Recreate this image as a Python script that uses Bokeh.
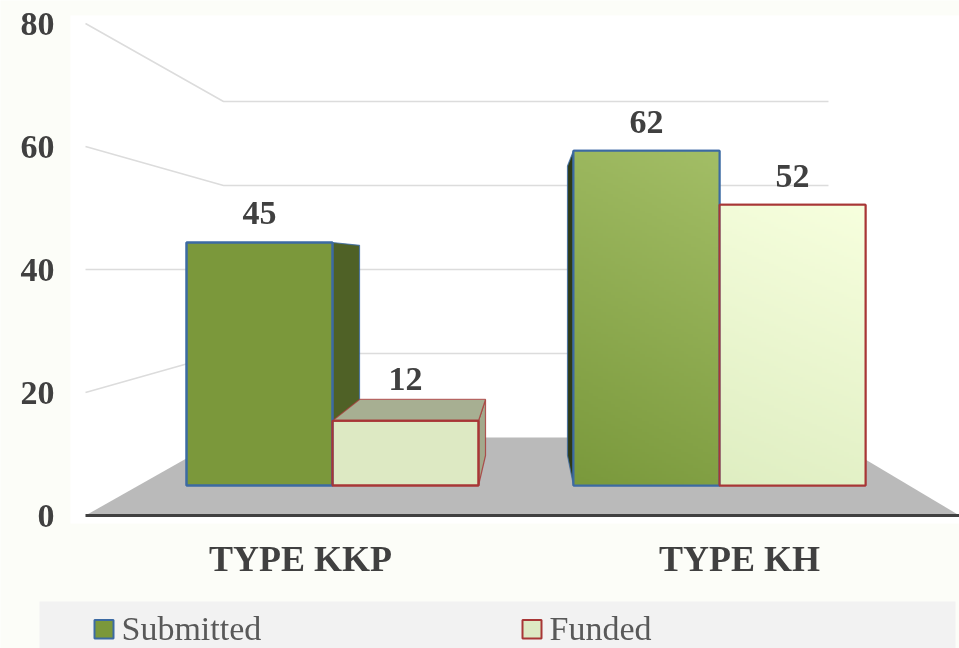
import numpy as np
from bokeh.embed import file_html
from bokeh.resources import INLINE
from bokeh.plotting import figure
from bokeh.models import Range1d, ColumnDataSource, FixedTicker
from bokeh.core.properties import value

# ---- data ----
categories = ["TYPE KKP", "TYPE KH"]
series = ["Submitted", "Funded"]
submitted = [45, 62]
funded = [12, 52]
y_ticks = [0, 20, 40, 60, 80]

# ---- style ----
W, H = 959, 648
PAGE = "#fcfdf8"
INK = "#404040"
SERIF = value("Liberation Serif")
LINE = {"Submitted": "#3c6aa3", "Funded": "#a83636"}
FILL = {"Submitted": "#7b983b", "Funded": "#dde9c3"}
SIDE = {"Submitted": ["#4f6126", "#2e3a16"], "Funded": ["#a3a98c", "#a7af92"]}
GRAD = {  # (top colour, bottom colour) of bars that carry a gradient
    ("Submitted", 1): ((163, 190, 102), (122, 153, 60)),
    ("Funded", 1): ((247, 255, 222), (223, 238, 194)),
}

# ---- view geometry (the 3-D look: each plane maps a value to the axis scale) ----
U = 6.15                     # pixels per value on the axis plane
ZERO_PX = 515                # pixel row of the axis plane's zero
def row(px):                 # pixel row -> y data
    return (ZERO_PX - px) / U

FRONT = (1.0, 0.0, 5.4 / U, row(485))
BACK = (0.863, 72.5, 4.67 / U, row(455))
WALL_Y = (4.2 / U, row(437))
def pt(x, v, plane):
    return plane[0] * x + plane[1], plane[2] * v + plane[3]

SLOT = {0: 332, 1: 719}      # category centres on the front plane
BW = 146                     # bar width
AX_L, WALL_L, WALL_R, AX_R = 85, 223, 828, 959
CAT_X = [300, 739]
LABEL_DY = {("Submitted", 0): -30, ("Funded", 0): -42,
            ("Submitted", 1): -29, ("Funded", 1): -29}
LEG_SWATCH = [94, 522]
LEG_TEXT = [121, 549]

p = figure(width=W, height=H, x_range=Range1d(0, W),
           y_range=Range1d(row(H), row(0)), toolbar_location=None, tools="",
           output_backend="svg", min_border=0, x_axis_type=None,
           background_fill_color=PAGE, border_fill_color=PAGE, outline_line_color=None)
p.styles = {"position": "fixed", "left": "0", "top": "0"}
p.xgrid.visible = False
p.ygrid.visible = False

# panel, floor, walls
p.quad(left=70, right=W, top=row(15), bottom=row(523), fill_color="white", line_color=None)
p.patch([AX_L, AX_R, WALL_R, WALL_L], [0, 0, WALL_Y[1], WALL_Y[1]],
        fill_color="#bababa", line_color=None)
gx, gy = [], []
for t in y_ticks[1:]:
    back = WALL_Y[0] * t + WALL_Y[1]
    gx.append([AX_L, WALL_L, WALL_R])
    gy.append([t, back, back])
p.multi_line(gx, gy, line_color="#dcdcdc", line_width=1.5)

# y axis, real ticks
ax = p.yaxis[0]
ax.ticker = FixedTicker(ticks=y_ticks)
ax.fixed_location = 64
ax.axis_line_color = None
ax.major_tick_line_color = None
ax.minor_tick_line_color = None
ax.major_label_standoff = 4
ax.major_label_text_font = "Liberation Serif"
ax.major_label_text_font_style = "bold"
ax.major_label_text_font_size = "34px"
ax.major_label_text_color = INK

# bars
bars = []
for i in range(len(categories)):
    bars.append(("Submitted", i, submitted[i], SLOT[i] - BW, SLOT[i]))
    bars.append(("Funded", i, funded[i], SLOT[i], SLOT[i] + BW))
bars.sort(key=lambda b: series.index(b[0]))

def side_patch(name, x, v, colour):
    fx, fb = pt(x, 0, FRONT)
    _, ft = pt(x, v, FRONT)
    bx, bb = pt(x, 0, BACK)
    _, bt = pt(x, v, BACK)
    p.patch([fx, fx, bx, bx], [fb, ft, bt, bb], fill_color=colour,
            line_color=LINE[name], line_width=1.2, line_alpha=0.8)

for name, i, v, l, r in bars:          # side faces
    if pt(r, 0, BACK)[0] > r:
        side_patch(name, r, v, SIDE[name][0])
    if pt(l, 0, BACK)[0] < l and name == "Submitted":
        side_patch(name, l, v, SIDE[name][1])

for name, i, v, l, r in bars:          # top faces
    if pt(l, v, BACK)[1] > pt(l, v, FRONT)[1]:
        fl, ft = pt(l, v, FRONT)
        fr, _ = pt(r, v, FRONT)
        bl, bt = pt(l, v, BACK)
        br, _ = pt(r, v, BACK)
        p.patch([fl, bl, br, fr], [ft, bt, bt, ft], fill_color=SIDE[name][1],
                line_color=LINE[name], line_width=1.2, line_alpha=0.7)

front = ColumnDataSource(dict(
    left=[b[3] for b in bars], right=[b[4] for b in bars],
    top=[pt(0, b[2], FRONT)[1] for b in bars],
    bottom=[FRONT[3]] * len(bars),
    fill=[FILL[b[0]] for b in bars], line=[LINE[b[0]] for b in bars]))
p.quad(left="left", right="right", top="top", bottom="bottom", source=front,
       fill_color="fill", line_color="line", line_width=2)

for name, i, v, l, r in bars:          # lit gradients
    if (name, i) not in GRAD:
        continue
    top, bot = GRAD[(name, i)]
    hh, ww = 120, 60
    yy, xx = np.mgrid[0:hh, 0:ww]
    t = np.clip(0.82 * (yy / (hh - 1)) + 0.18 * (xx / (ww - 1)), 0, 1)
    img = np.zeros((hh, ww), dtype=np.uint32)
    view = img.view(np.uint8).reshape(hh, ww, 4)
    for c in range(3):
        view[:, :, c] = bot[c] + (top[c] - bot[c]) * t
    view[:, :, 3] = 255
    p.image_rgba(image=[img], x=l, y=FRONT[3], dw=r - l, dh=FRONT[2] * v)
p.quad(left="left", right="right", top="top", bottom="bottom", source=front,
       fill_color=None, line_color="line", line_width=2)

# data labels
p.text(x=[(b[3] + b[4]) / 2 for b in bars],
       y=[pt(0, b[2], FRONT)[1] for b in bars],
       text=[str(b[2]) for b in bars],
       y_offset=[LABEL_DY[(b[0], b[1])] for b in bars],
       text_font=SERIF, text_font_style="bold", text_font_size="34px",
       text_color=INK, text_align="center", text_baseline="middle")

# base line
p.line([AX_L, AX_R], [0, 0], line_color=INK, line_width=3)

# category labels
p.text(x=CAT_X, y=[row(558)] * 2, text=categories, text_font=SERIF, text_font_style="bold",
       text_font_size="36px", text_color=INK, text_align="center", text_baseline="middle")

# legend
p.quad(left=39, right=955, top=row(601), bottom=row(H), fill_color="#f2f2f2", line_color=None)
p.quad(left=LEG_SWATCH, right=[s + 19 for s in LEG_SWATCH], top=[row(619.5)] * 2,
       bottom=[row(638)] * 2, fill_color=[FILL[s] for s in series],
       line_color=[LINE[s] for s in series], line_width=2)
p.text(x=LEG_TEXT, y=[row(628)] * 2, text=series, text_font=SERIF, text_font_size="34px",
       text_color="#595959", text_align="left", text_baseline="middle")

open("out.html", "w").write(file_html(p, INLINE))
